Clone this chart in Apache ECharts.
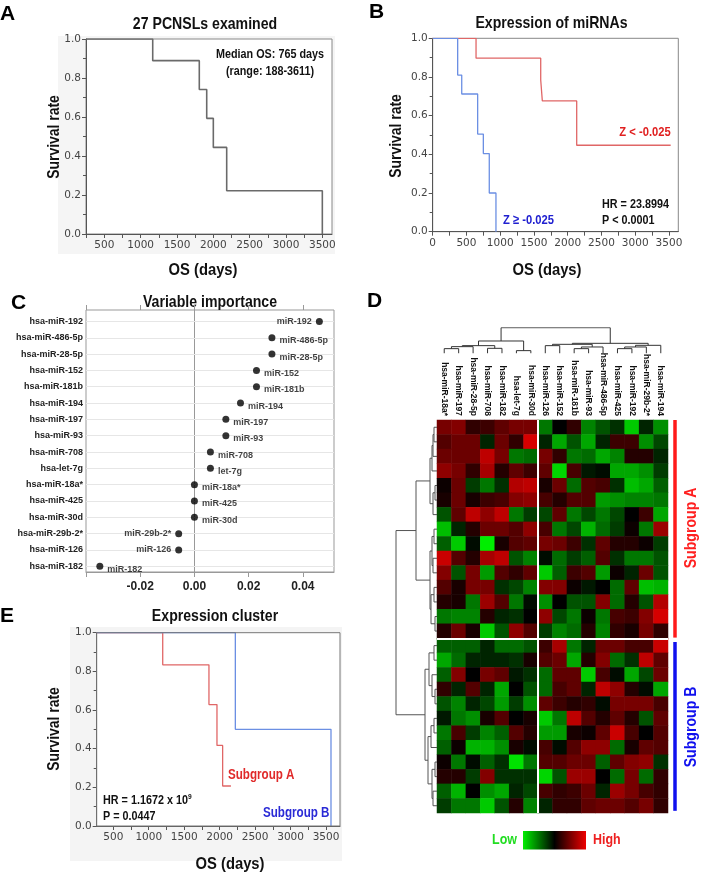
<!DOCTYPE html>
<html><head><meta charset="utf-8">
<script src="https://cdn.jsdelivr.net/npm/echarts@6/dist/echarts.min.js"></script>
<style>html,body{margin:0;padding:0;background:#fff}#c{width:701px;height:873px}</style>
</head><body><div id="c"></div>
<script>
// ================= DATA =================
// Panel A: overall survival (27 PCNSLs)
const kmA_time = [248, 1166, 1807, 1909, 2000, 2184, 3500];
const kmA_surv = [1, 0.889, 0.741, 0.593, 0.444, 0.222, 0];
// Panel B: Z < -0.025 (red) and Z >= -0.025 (blue)
const kmB_low_time = [0, 642, 1600, 1624, 2133, 3525];
const kmB_low_surv = [1, 0.897, 0.784, 0.676, 0.447, 0.447];
const kmB_high_time = [0, 370, 430, 666, 750, 838, 937];
const kmB_high_surv = [1, 0.81, 0.712, 0.505, 0.404, 0.2, 0];
// Panel E: subgroup A (red), subgroup B (blue)
const kmE_A_time = [266, 1197, 1849, 1962, 2042, 2159];
const kmE_A_surv = [1, 0.834, 0.628, 0.417, 0.207, 0.207];
const kmE_B_time = [266, 2221, 3570];
const kmE_B_surv = [1, 0.5, 0];
const kmTicks = [500, 1000, 1500, 2000, 2500, 3000, 3500];
const kmTicksB = [0, 500, 1000, 1500, 2000, 2500, 3000, 3500];

// Panel C: variable importance
const impNames = ['hsa-miR-192','hsa-miR-486-5p','hsa-miR-28-5p','hsa-miR-152','hsa-miR-181b','hsa-miR-194','hsa-miR-197','hsa-miR-93','hsa-miR-708','hsa-let-7g','hsa-miR-18a*','hsa-miR-425','hsa-miR-30d','hsa-miR-29b-2*','hsa-miR-126','hsa-miR-182'];
const impShort = ['miR-192','miR-486-5p','miR-28-5p','miR-152','miR-181b','miR-194','miR-197','miR-93','miR-708','let-7g','miR-18a*','miR-425','miR-30d','miR-29b-2*','miR-126','miR-182'];
const impValues = [0.0461, 0.0286, 0.0286, 0.0229, 0.0229, 0.0170, 0.0116, 0.0116, 0.0059, 0.0059, 0, 0, 0, -0.0058, -0.0058, -0.0349];
const impLabelLeft = ['miR-192', 'miR-29b-2*', 'miR-126'];
const impTicks = [-0.02, 0, 0.02, 0.04];

// Panel D: heatmap (rows = 27 cases, cols = 16 miRNAs)
const heatCols = ['hsa-miR-18a*','hsa-miR-197','hsa-miR-28-5p','hsa-miR-708','hsa-miR-182','hsa-let-7g','hsa-miR-30d','hsa-miR-126','hsa-miR-152','hsa-miR-181b','hsa-miR-93','hsa-miR-486-5p','hsa-miR-425','hsa-miR-192','hsa-miR-29b-2*','hsa-miR-194'];
const heatValues = [
  [0.5,0.55,0.2,0.25,0.4,0.5,0.5,-0.5,0,0.2,-0.55,-0.35,-0.2,-0.85,-0.15,-0.6],
  [0.35,0.45,0.45,-0.15,0.45,0.2,0.9,-0.15,-0.7,-0.35,-0.7,-0.15,0.25,0.25,-0.6,-0.3],
  [0.45,0.45,0.45,0.8,0.5,-0.5,-0.45,0.5,0.2,-0.5,-0.45,-0.7,-0.55,0.15,0.15,-0.15],
  [0.6,0.5,0.2,0.7,0.15,0.4,0.25,0.4,-0.9,0.3,-0.1,-0.05,-0.7,-0.7,-0.6,-0.25],
  [0.05,0.45,-0.25,-0.5,-0.2,0.75,0.8,0.1,0.45,-0.45,0.35,0.3,-0.2,-0.8,-0.7,-0.4],
  [0.1,0.45,0.1,0.25,0.3,0.55,0.6,0.3,0.15,0.35,0.35,-0.65,-0.6,-0.55,-0.55,-0.5],
  [-0.35,0.4,0.8,0.6,0.8,-0.5,-0.25,-0.3,0.4,-0.5,-0.3,-0.5,-0.3,0,0.25,-0.7],
  [-0.8,-0.15,0.15,0.45,0.45,0.35,0.6,0.3,-0.5,-0.3,-0.75,-0.45,-0.25,0.05,-0.5,0.65],
  [-0.4,-0.85,-0.05,-1.0,0.1,0.35,0.4,0.5,0.45,0.25,-0.2,0.4,0.15,0.15,0.05,-0.25],
  [0.85,0.35,0.15,0.7,0.8,-0.35,-0.55,-0.05,-0.45,-0.25,-0.4,0.35,-0.2,-0.5,-0.5,-0.35],
  [0.55,-0.35,0.5,-0.65,0.35,0.2,0.4,-0.85,-0.4,0.25,0.35,-0.65,0.05,-0.15,0.45,-0.35],
  [0.35,0.1,0.5,0.5,-0.2,-0.3,-0.55,0.55,0.55,0.05,-0.1,0,-0.45,0.4,-0.8,-0.75],
  [0.15,0.1,-0.5,0.65,0.35,-0.5,-0.05,-0.6,0,-0.35,-0.35,0.55,-0.45,0.15,-0.35,0.75],
  [-0.5,-0.55,-0.55,0.15,-0.15,-0.2,0,0.6,-0.3,-0.5,0.05,-0.5,0.3,0.25,0.55,0.9],
  [0.15,0.45,0.1,-0.85,-0.35,0.6,0.35,-0.25,-0.55,-0.45,0.15,-0.55,0.2,0.1,0.5,0.2],
  [-0.4,-0.4,-0.4,-0.15,-0.45,-0.45,-0.35,0.25,0.7,-0.5,-0.15,0.45,0.45,0.3,0.3,0.85],
  [-0.7,-0.45,-0.15,-0.15,-0.15,-0.2,0.1,0.35,0.45,-0.7,0.15,0.55,-0.45,-0.2,0.8,0.4],
  [-0.4,0.55,0,0.5,0.4,-0.1,-0.2,-0.45,0.4,0.4,-0.85,0.3,-0.05,-0.7,-0.3,0.45],
  [0.2,-0.15,0.35,-0.15,-0.7,0,-0.35,-0.45,0.3,0.4,-0.15,0.8,0.6,0.15,-0.05,-0.7],
  [-0.35,-0.55,-0.15,-0.3,-0.65,-0.25,-0.6,0.4,0.25,0.15,0.2,-0.05,0.5,0.5,0.5,0.3],
  [-0.1,-0.5,-0.6,0.1,0.35,0,0.1,-0.85,-0.5,0.8,0.35,0.15,0.4,0.15,-0.35,0.4],
  [-0.5,0.3,-0.25,-0.55,-0.4,0.35,0.15,-0.65,-0.65,0.1,0.05,0.4,0.85,0.3,0,0.35],
  [-0.4,0.05,-0.75,-0.75,-0.6,0.1,-0.05,0.3,-0.05,0.35,0.6,0.6,-0.45,0.1,0.4,0.35],
  [0.05,-0.5,-0.05,-0.4,-0.2,-0.95,-0.5,0.35,0.35,0.45,0.45,-0.4,0.4,0.55,0.6,-0.2],
  [0.15,0.15,-0.25,0.55,-0.2,-0.2,-0.2,-0.9,-0.35,0.65,0.65,0,-0.45,0.5,-0.45,0.2],
  [-0.4,-0.75,0,-0.6,-0.7,-0.15,-0.3,0.3,0.2,0.25,0.45,-0.15,0.65,0.5,0.3,0.2],
  [-0.25,-0.5,-0.5,-0.85,-0.35,0.15,-0.55,-0.15,0.2,0.2,0.4,0.45,0.45,0.35,0.5,0.2]
];
const rowGroupSizes = [15, 12];   // Subgroup A, Subgroup B
const colGroupSizes = [7, 9];
// dendrograms: [height, left, right]; numbers are leaf indices
const colTree = [77,
  [37, [23, [20, [14, 0, 1], 2], [15, 3, 4]], [8, 5, 6]],
  [30, [27, [23, 7, 8], [19, [14, 9, 10], 11]], [24, [19, [14, 12, 13], 14], 15]]
];
const rowTree = [41,
  [21, [7, [5, [4, [3, 0, 1], 2], 3], [4, [2, 4, 5], 6]],
       [7, [5, [3, 7, 8], [4, 9, 10]], [6, [3, 11, 12], [2, 13, 14]]]],
  [12, [8, [3, 15, 16], [5, 17, [2, 18, 19]]],
       [9, [6, [3, 20, 21], 22], [5, [2, 23, 24], [4, 25, 26]]]]
];

// ================= HELPERS =================
const NARROW = "'Liberation Sans Narrow','Arial Narrow','Liberation Sans',Arial,sans-serif";
const SANS = "'Liberation Sans',Arial,sans-serif";
const TICKF = "'DejaVu Sans',Verdana,sans-serif";
const zip = (a, b) => a.map((v, i) => [v, b[i]]);
function quarterTicks(lo, hi) { const t = []; for (let v = 0; v <= 3500; v += 250) if (v >= lo && v <= hi) t.push(v); return t; }

function dendro(tree, swap) {
  const segs = [];
  function walk(n) {
    if (typeof n === 'number') return { p: n + 0.5, h: 0 };
    const [h, l, r] = n;
    const L = walk(l), R = walk(r);
    const pts = [[L.p, L.h], [L.p, h], [R.p, h], [R.p, R.h]];
    segs.push({ coords: swap ? pts.map(q => [q[1], q[0]]) : pts });
    return { p: (L.p + R.p) / 2, h };
  }
  walk(tree);
  return segs;
}

function kmX(gi, min, max, labels, ticks) {
  return {
    type: 'value', gridIndex: gi, min, max,
    axisLine: { show: true, lineStyle: { color: '#555', width: 1 } },
    axisTick: { show: true, customValues: ticks, length: 4, lineStyle: { color: '#555' } },
    axisLabel: { customValues: labels, formatter: v => String(v), color: '#444', fontFamily: TICKF, fontSize: 10.5, margin: 6 },
    splitLine: { show: false }
  };
}
function kmY(gi) {
  return {
    type: 'value', gridIndex: gi, min: 0, max: 1, interval: 0.2,
    axisLine: { show: true, lineStyle: { color: '#555', width: 1 } },
    axisTick: { show: true, length: 4, lineStyle: { color: '#555' } },
    minorTick: { show: true, splitNumber: 2, length: 3, lineStyle: { color: '#555' } },
    axisLabel: { formatter: v => v.toFixed(1), color: '#444', fontFamily: TICKF, fontSize: 10.5, margin: 5 },
    splitLine: { show: false }
  };
}
function km(xi, yi, t, s, color, w) {
  return { type: 'line', xAxisIndex: xi, yAxisIndex: yi, step: 'end', data: zip(t, s), showSymbol: false, symbol: 'none',
    lineStyle: { color, width: w }, silent: true, animation: false };
}
function txt(x, y, text, font, color, align, rot, sx) {
  return { type: 'text', x, y, rotation: rot || 0, scaleX: sx || 1, silent: true,
    style: { text, font, fill: color || '#111', align: align || 'center', verticalAlign: 'middle' } };
}
const NS = 0.83; // horizontal squeeze to imitate a narrow face

// ================= OPTION =================
const nRows = heatValues.length, nCols = heatCols.length;
const heatData = [];
heatValues.forEach((row, r) => row.forEach((v, c) => heatData.push([c, r, v])));

const sepLines = [];
{ let acc = 0; colGroupSizes.slice(0, -1).forEach(s => { acc += s; sepLines.push({ coords: [[acc, 0], [acc, nRows]] }); }); }
{ let acc = 0; rowGroupSizes.slice(0, -1).forEach(s => { acc += s; sepLines.push({ coords: [[0, acc], [nCols, acc]] }); }); }

const grpBars = [];
{ let acc = 0; rowGroupSizes.forEach((s, i) => { grpBars.push({ coords: [[nCols + 0.48, acc + (i ? 0.25 : 0)], [nCols + 0.48, acc + s - (i ? 0.15 : 0.05)]], lineStyle: { color: i ? '#1010ee' : '#ff1a1a' } }); acc += s; }); }

const impGuides = impNames.map((n, i) => ({ coords: [[-0.04, i + 1], [0.0515, i + 1]] }));
const impData = impValues.map((v, i) => ({
  value: [v, i + 1],
  label: { position: impLabelLeft.includes(impShort[i]) ? 'left' : 'right', offset: impLabelLeft.includes(impShort[i]) ? [0, 0] : [0, 3] }
}));

const option = {
  backgroundColor: '#fff',
  animation: false,
  grid: [
    { left: 86, top: 39, width: 246, height: 195, show: true, borderColor: '#888', borderWidth: 1 },
    { left: 432.7, top: 38.3, width: 245.6, height: 193.4, show: true, borderColor: '#888', borderWidth: 1 },
    { left: 86, top: 310, width: 248, height: 262, show: true, borderColor: '#999', borderWidth: 1 },
    { left: 437, top: 420, width: 231, height: 393 },
    { left: 437, top: 420, width: 231, height: 393 },
    { left: 437, top: 327.7, width: 231, height: 25.6 },
    { left: 389, top: 420, width: 48, height: 393 },
    { left: 96.7, top: 632.7, width: 243.3, height: 193.3, show: true, borderColor: '#777', borderWidth: 1, z: 5 }
  ],
  xAxis: [
    kmX(0, 248, 3633, kmTicks, quarterTicks(248, 3633)),
    kmX(1, 0, 3638, kmTicksB, quarterTicks(0, 3638)),
    { type: 'value', gridIndex: 2, min: -0.04, max: 0.0515,
      axisLine: { show: true, lineStyle: { color: '#999' } },
      axisTick: { show: true, customValues: [-0.04, -0.02, 0, 0.02, 0.04], length: 5, lineStyle: { color: '#999' } },
      axisLabel: { customValues: impTicks, formatter: v => v.toFixed(2), color: '#222', fontFamily: NARROW, fontWeight: 'bold', fontSize: 12, margin: 9 },
      splitLine: { show: false } },
    { type: 'value', gridIndex: 2, min: -0.04, max: 0.0515, position: 'top',
      axisLine: { show: false }, axisLabel: { show: false }, splitLine: { show: false },
      axisTick: { show: true, customValues: [-0.04, -0.02, 0, 0.02, 0.04], length: 5, lineStyle: { color: '#999' } } },
    { type: 'category', gridIndex: 3, data: heatCols, position: 'top',
      axisLine: { show: false }, axisTick: { show: false }, splitLine: { show: false },
      axisLabel: { rotate: 90, interval: 0, fontFamily: NARROW, fontWeight: 'bold', fontSize: 8.5, color: '#111', margin: 4 } },
    { type: 'value', gridIndex: 4, min: 0, max: nCols, show: false },
    { type: 'value', gridIndex: 5, min: 0, max: nCols, show: false },
    { type: 'value', gridIndex: 6, min: 0, max: 48, inverse: true, show: false },
    kmX(7, 266, 3697, kmTicks, quarterTicks(266, 3697))
  ],
  yAxis: [
    kmY(0), kmY(1),
    { type: 'value', gridIndex: 2, min: 0.3, max: 16.35, inverse: true,
      axisLine: { show: true, lineStyle: { color: '#999' } }, axisTick: { show: false }, splitLine: { show: false },
      axisLabel: { customValues: impNames.map((n, i) => i + 1), formatter: v => impNames[Math.round(v) - 1] || '',
        fontFamily: NARROW, fontWeight: 'bold', fontSize: 9, color: '#222', margin: 3 } },
    { type: 'category', gridIndex: 3, data: heatValues.map((r, i) => String(i + 1)), inverse: true, show: false },
    { type: 'value', gridIndex: 4, min: 0, max: nRows, inverse: true, show: false },
    { type: 'value', gridIndex: 5, min: 0, max: 77, show: false },
    { type: 'value', gridIndex: 6, min: 0, max: nRows, inverse: true, show: false },
    kmY(7)
  ],
  visualMap: [{ type: 'continuous', min: -1, max: 1, seriesIndex: 5, show: false,
    inRange: { color: ['#00ee00', '#000000', '#ee0000'] } }],
  series: [
    km(0, 0, kmA_time, kmA_surv, '#6a6a6a', 1.6),
    km(1, 1, kmB_low_time, kmB_low_surv, '#e06666', 1.3),
    km(1, 1, kmB_high_time, kmB_high_surv, '#6b8fe3', 1.3),
    { type: 'lines', coordinateSystem: 'cartesian2d', xAxisIndex: 2, yAxisIndex: 2, data: impGuides, silent: true,
      lineStyle: { color: '#e6e6e6', width: 1, opacity: 1 }, z: 1 },
    { type: 'scatter', xAxisIndex: 2, yAxisIndex: 2, data: impData, symbolSize: 7, itemStyle: { color: '#000' }, silent: true,
      label: { show: true, formatter: p => impShort[p.dataIndex], fontFamily: NARROW, fontWeight: 'bold', fontSize: 9, color: '#111', distance: 4 } },
    { type: 'heatmap', xAxisIndex: 4, yAxisIndex: 3, data: heatData, silent: true, emphasis: { disabled: true } },
    { type: 'lines', coordinateSystem: 'cartesian2d', xAxisIndex: 5, yAxisIndex: 4, data: sepLines, silent: true,
      lineStyle: { color: '#ffffff', width: 2, opacity: 1 }, z: 5 },
    { type: 'lines', coordinateSystem: 'cartesian2d', xAxisIndex: 5, yAxisIndex: 4, data: grpBars, silent: true, clip: false,
      lineStyle: { width: 3.5, opacity: 1 }, z: 5 },
    { type: 'lines', coordinateSystem: 'cartesian2d', xAxisIndex: 6, yAxisIndex: 5, data: dendro(colTree, false), polyline: true, silent: true,
      lineStyle: { color: '#333', width: 1, opacity: 1 } },
    { type: 'lines', coordinateSystem: 'cartesian2d', xAxisIndex: 7, yAxisIndex: 6, data: dendro(rowTree, true), polyline: true, silent: true,
      lineStyle: { color: '#555', width: 1, opacity: 1 } },
    km(8, 7, kmE_A_time, kmE_A_surv, '#e06666', 1.3),
    km(8, 7, kmE_B_time, kmE_B_surv, '#6b8fe3', 1.3)
  ],
  graphic: [
    { type: 'rect', shape: { x: 58, y: 36, width: 277, height: 218 }, style: { fill: '#f5f5f5' }, z: -100, silent: true },
    { type: 'rect', shape: { x: 70, y: 627, width: 272, height: 234 }, style: { fill: '#f4f4f4' }, z: -100, silent: true },
    { type: 'rect', shape: { x: 86, y: 39, width: 246, height: 195 }, style: { fill: '#fff' }, z: -99, silent: true },
    { type: 'rect', shape: { x: 96.7, y: 632.7, width: 243.3, height: 193.3 }, style: { fill: '#fff' }, z: -99, silent: true },
    // panel letters
    txt(0, 14.5, 'A', 'bold 21px ' + SANS, '#000', 'left'),
    txt(369, 12.5, 'B', 'bold 21px ' + SANS, '#000', 'left'),
    txt(11, 303, 'C', 'bold 21px ' + SANS, '#000', 'left'),
    txt(367, 301.5, 'D', 'bold 21px ' + SANS, '#000', 'left'),
    txt(0, 616.5, 'E', 'bold 21px ' + SANS, '#000', 'left'),
    // titles
    txt(205, 24, '27 PCNSLs examined', 'bold 17px ' + NARROW, '#111', 'center', 0, NS),
    txt(551.5, 23, 'Expression of miRNAs', 'bold 17px ' + NARROW, '#111', 'center', 0, NS),
    txt(210, 302, 'Variable importance', 'bold 17px ' + NARROW, '#111', 'center', 0, NS),
    txt(215, 616.5, 'Expression cluster', 'bold 17px ' + NARROW, '#111', 'center', 0, NS),
    // axis titles
    txt(55, 137, 'Survival rate', 'bold 16px ' + NARROW, '#111', 'center', Math.PI / 2, 0.87),
    txt(397, 136, 'Survival rate', 'bold 16px ' + NARROW, '#111', 'center', Math.PI / 2, 0.87),
    txt(55, 729, 'Survival rate', 'bold 16px ' + NARROW, '#111', 'center', Math.PI / 2, 0.87),
    txt(203, 270, 'OS (days)', 'bold 17px ' + NARROW, '#111', 'center', 0, 0.87),
    txt(547, 270, 'OS (days)', 'bold 17px ' + NARROW, '#111', 'center', 0, 0.87),
    txt(230, 864, 'OS (days)', 'bold 17px ' + NARROW, '#111', 'center', 0, 0.87),
    // annotations A
    txt(270, 54, 'Median OS: 765 days', 'bold 13px ' + NARROW, '#111', 'center', 0, NS),
    txt(270, 71.5, '(range: 188-3611)', 'bold 13px ' + NARROW, '#111', 'center', 0, NS),
    // annotations B
    txt(645, 132, 'Z < -0.025', 'bold 13.5px ' + NARROW, '#e02020', 'center', 0, NS),
    txt(602, 204, 'HR = 23.8994', 'bold 13px ' + NARROW, '#111', 'left', 0, NS),
    txt(602, 220, 'P < 0.0001', 'bold 13px ' + NARROW, '#111', 'left', 0, NS),
    txt(503, 220, 'Z \u2265 -0.025', 'bold 13.5px ' + NARROW, '#2020d0', 'left', 0, NS),
    // annotations E
    txt(228, 775, 'Subgroup A', 'bold 14px ' + NARROW, '#e02a2a', 'left', 0, NS),
    { type: 'text', x: 103, y: 800, scaleX: NS, silent: true, style: { text: '{a|HR = 1.1672 x 10}{s|9}', verticalAlign: 'middle', align: 'left',
      rich: { a: { font: 'bold 13px ' + NARROW, fill: '#111' }, s: { font: 'bold 8px ' + NARROW, fill: '#111', verticalAlign: 'top', padding: [0, 0, 6, 0] } } } },
    txt(103, 816, 'P = 0.0447', 'bold 13px ' + NARROW, '#111', 'left', 0, NS),
    txt(263, 813, 'Subgroup B', 'bold 14px ' + NARROW, '#2a2ad6', 'left', 0, NS),
    // D group labels and legend
    txt(691, 528, 'Subgroup A', 'bold 17px ' + NARROW, '#ff2020', 'center', Math.PI / 2, NS),
    txt(691, 727, 'Subgroup B', 'bold 17px ' + NARROW, '#1010ee', 'center', Math.PI / 2, NS),
    txt(517, 840, 'Low', 'bold 15px ' + NARROW, '#22dd22', 'right', 0, NS),
    txt(593, 840, 'High', 'bold 15px ' + NARROW, '#ee2020', 'left', 0, NS),
    { type: 'rect', shape: { x: 523, y: 831, width: 63, height: 18.5 }, silent: true,
      style: { fill: new echarts.graphic.LinearGradient(0, 0, 1, 0, [
        { offset: 0, color: '#00ee00' }, { offset: 0.5, color: '#000000' }, { offset: 1, color: '#ee0000' }]) } }
  ]
};

const chart = echarts.init(document.getElementById('c'), null, { renderer: 'canvas' });
chart.setOption(option);
</script>
</body></html>
